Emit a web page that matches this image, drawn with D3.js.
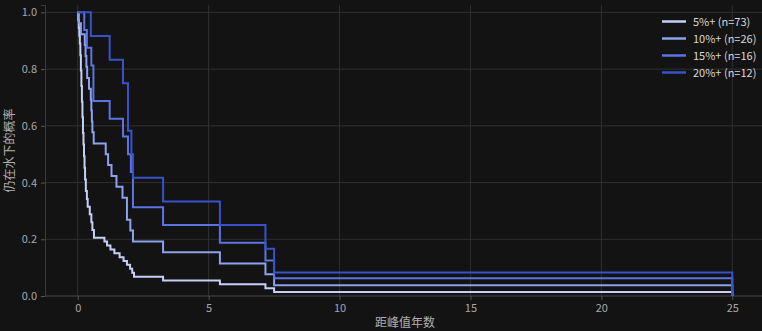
<!DOCTYPE html>
<html>
<head>
<meta charset="utf-8">
<script src="https://cdn.jsdelivr.net/npm/d3@7"></script>
<style>
  html, body { margin: 0; padding: 0; background: #131313; }
  svg { display: block; }
  text { font-family: "Noto Sans CJK SC", "Noto Sans", sans-serif; }
</style>
</head>
<body>
<svg id="chart" width="762" height="331"></svg>
<script>
// Survival of drawdowns: share of episodes still under water, by years since the peak.
const seriesNames = ["5%+ (n=73)", "10%+ (n=26)", "15%+ (n=16)", "20%+ (n=12)"];
const seriesColors = ["#c6d0f7", "#8ea1ee", "#5b74e2", "#3752cc"];

// Step times (years) and survival after each step
const t5 = [0.02,0.04,0.06,0.08,0.10,0.12,0.14,0.16,0.18,0.20,0.22,0.24,0.26,0.28,0.31,0.35,0.38,0.46,0.52,0.56,0.62,1.02,1.12,1.25,1.40,1.60,1.75,1.88,2.00,2.08,2.15,3.26,5.43,7.17,7.50,25];
const s5 = [0.973,0.945,0.918,0.890,0.849,0.795,0.740,0.685,0.630,0.575,0.534,0.493,0.452,0.411,0.370,0.342,0.315,0.288,0.260,0.233,0.205,0.192,0.178,0.164,0.151,0.137,0.123,0.110,0.096,0.082,0.068,0.055,0.041,0.027,0.014,0];

const t10 = [0.04,0.12,0.27,0.30,0.33,0.36,0.43,0.50,0.52,0.54,0.56,0.61,1.07,1.16,1.29,1.48,1.71,1.88,2.01,2.11,3.26,5.43,7.17,7.50,25];
const s10 = [0.962,0.923,0.885,0.846,0.808,0.769,0.731,0.692,0.654,0.615,0.577,0.538,0.500,0.462,0.423,0.385,0.346,0.269,0.231,0.192,0.154,0.115,0.077,0.038,0];

const t15 = [0.25,0.35,0.52,0.60,1.22,1.73,1.92,2.03,2.11,3.26,5.43,7.17,7.50,25];
const s15 = [0.9375,0.875,0.8125,0.6875,0.625,0.5625,0.5,0.4375,0.3125,0.25,0.1875,0.125,0.0625,0];

const t20 = [0.50,1.22,1.73,1.92,2.05,2.11,3.26,5.43,7.17,7.50,25];
const s20 = [0.917,0.833,0.75,0.583,0.5,0.417,0.333,0.25,0.167,0.083,0];

const xTicks = [0, 5, 10, 15, 20, 25];
const yTicks = [0.0, 0.2, 0.4, 0.6, 0.8, 1.0];

const svg = d3.select("#chart");
const W = 762, H = 331;
const plot = { left: 45, right: 765, top: 5, bottom: 296 };

const x = d3.scaleLinear().domain([-1.25, 26.25]).range([plot.left, plot.right]);
const y = d3.scaleLinear().domain([0, 1.026]).range([plot.bottom, plot.top]);

// grid
const grid = svg.append("g");
grid.selectAll("line.vx").data(xTicks).join("line")
  .attr("x1", d => x(d)).attr("x2", d => x(d))
  .attr("y1", plot.top).attr("y2", plot.bottom)
  .attr("stroke", "#303030").attr("stroke-width", 1);
grid.selectAll("line.hy").data(yTicks).join("line")
  .attr("x1", plot.left).attr("x2", W)
  .attr("y1", d => y(d)).attr("y2", d => y(d))
  .attr("stroke", "#303030").attr("stroke-width", 1);

// axes
const xAxis = svg.append("g").attr("transform", `translate(0,${plot.bottom})`)
  .call(d3.axisBottom(x).tickValues(xTicks).tickFormat(d3.format("d")).tickSize(4).tickPadding(4));
const yAxis = svg.append("g").attr("transform", `translate(${plot.left},0)`)
  .call(d3.axisLeft(y).tickValues(yTicks).tickFormat(d3.format(".1f")).tickSize(4).tickPadding(4));
[xAxis, yAxis].forEach(a => {
  a.select(".domain").attr("stroke", "#3a3a3a");
  a.selectAll(".tick line").attr("stroke", "#555");
  a.selectAll(".tick text").attr("fill", "#a8a8a8").style("font-size", "11px")
    .style("font-family", "'Noto Sans CJK SC', sans-serif");
});
xAxis.select(".domain").attr("d", `M${plot.left},0H${W}`);

// axis titles
svg.append("text").attr("x", (plot.left + plot.right) / 2).attr("y", 327)
  .attr("text-anchor", "middle").attr("fill", "#b0b0b0").style("font-size", "12px")
  .text("距峰值年数");
svg.append("text").attr("transform", `translate(14,${(plot.top + plot.bottom) / 2}) rotate(-90)`)
  .attr("text-anchor", "middle").attr("fill", "#b0b0b0").style("font-size", "12px")
  .text("仍在水下的概率");

// curves, lightest first so the stronger thresholds sit on top
const allTimes = [t5, t10, t15, t20];
const allSurv = [s5, s10, s15, s20];
const line = d3.line().x(d => x(d[0])).y(d => y(d[1])).curve(d3.curveStepAfter);
allTimes.forEach((ts, i) => {
  const pts = [[0, 1]].concat(ts.map((t, j) => [t, allSurv[i][j]]));
  svg.append("path").datum(pts)
    .attr("d", line)
    .attr("fill", "none")
    .attr("stroke", seriesColors[i])
    .attr("stroke-width", 2)
    .attr("stroke-linejoin", "miter");
});

// legend
const legend = svg.append("g");
seriesNames.forEach((name, i) => {
  const yy = 21.5 + i * 17;
  legend.append("line").attr("x1", 662).attr("x2", 686).attr("y1", yy).attr("y2", yy)
    .attr("stroke", seriesColors[i]).attr("stroke-width", 2.5);
  legend.append("text").attr("x", 693).attr("y", yy + 4)
    .attr("fill", "#d8d8d8").style("font-size", "11px").text(name);
});
</script>
</body>
</html>
